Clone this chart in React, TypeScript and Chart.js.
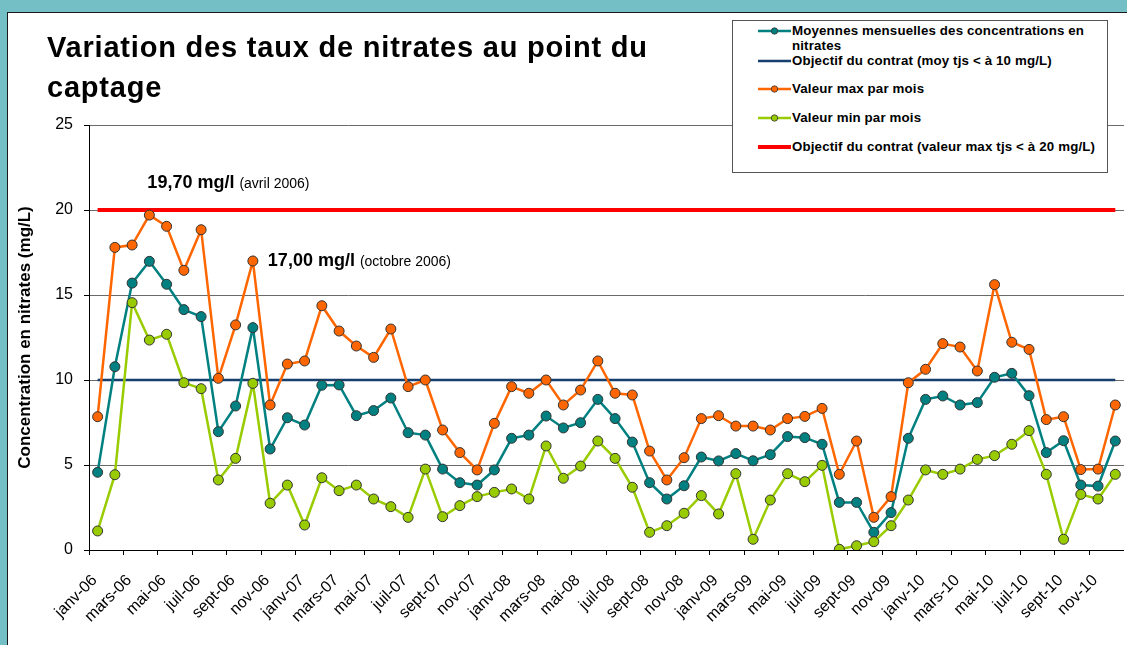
import React, { useEffect, useRef } from 'react';
import { Chart, registerables } from 'chart.js';

Chart.register(...registerables);

const FONT = '"Liberation Sans", Arial, sans-serif';

const months = [
  'janv-06','févr-06','mars-06','avr-06','mai-06','juin-06','juil-06','août-06','sept-06','oct-06','nov-06','déc-06',
  'janv-07','févr-07','mars-07','avr-07','mai-07','juin-07','juil-07','août-07','sept-07','oct-07','nov-07','déc-07',
  'janv-08','févr-08','mars-08','avr-08','mai-08','juin-08','juil-08','août-08','sept-08','oct-08','nov-08','déc-08',
  'janv-09','févr-09','mars-09','avr-09','mai-09','juin-09','juil-09','août-09','sept-09','oct-09','nov-09','déc-09',
  'janv-10','févr-10','mars-10','avr-10','mai-10','juin-10','juil-10','août-10','sept-10','oct-10','nov-10','déc-10',
];

const moyennes = [
  4.57, 10.78, 15.7, 16.98, 15.63, 14.14, 13.73, 6.96, 8.47, 13.08, 5.94, 7.78,
  7.35, 9.69, 9.71, 7.9, 8.2, 8.94, 6.9, 6.76, 4.76, 3.96, 3.82, 4.71,
  6.57, 6.76, 7.88, 7.18, 7.49, 8.86, 7.73, 6.35, 3.96, 3.0, 3.78, 5.47,
  5.24, 5.67, 5.25, 5.61, 6.67, 6.61, 6.22, 2.8, 2.8, 1.04, 2.2, 6.57,
  8.86, 9.06, 8.53, 8.67, 10.16, 10.39, 9.08, 5.73, 6.43, 3.82, 3.76, 6.41,
];

const maxParMois = [
  7.84, 17.8, 17.94, 19.7, 19.04, 16.45, 18.84, 10.1, 13.24, 17.0, 8.53, 10.94,
  11.12, 14.37, 12.88, 12.0, 11.33, 13.0, 9.61, 10.0, 7.06, 5.73, 4.71, 7.45,
  9.61, 9.22, 10.0, 8.53, 9.41, 11.12, 9.22, 9.12, 5.82, 4.12, 5.43, 7.73,
  7.9, 7.29, 7.29, 7.06, 7.73, 7.86, 8.33, 4.45, 6.41, 1.92, 3.14, 9.84,
  10.63, 12.14, 11.94, 10.53, 15.61, 12.22, 11.8, 7.67, 7.84, 4.73, 4.76, 8.53,
];

const minParMois = [
  1.12, 4.43, 14.55, 12.35, 12.69, 9.84, 9.49, 4.12, 5.39, 9.8, 2.75, 3.82,
  1.47, 4.25, 3.49, 3.82, 3.0, 2.55, 1.92, 4.76, 1.96, 2.61, 3.14, 3.39,
  3.59, 3.0, 6.12, 4.22, 4.94, 6.41, 5.39, 3.69, 1.04, 1.43, 2.16, 3.2,
  2.12, 4.49, 0.63, 2.94, 4.49, 4.02, 4.98, 0.04, 0.25, 0.49, 1.43, 2.94,
  4.71, 4.45, 4.76, 5.33, 5.55, 6.22, 7.02, 4.45, 0.63, 3.27, 3.0, 4.45,
];

const OBJ_MOY = 10;
const OBJ_MAX = 20;
const Y_MIN = 0;
const Y_MAX = 25;
const Y_STEP = 5;

const annotations = [
  { index: 3, value: 21.3, bold: '19,70 mg/l', normal: '(avril 2006)', dx: -2 },
  { index: 9, value: 16.7, bold: '17,00 mg/l', normal: '(octobre 2006)', dx: 15 },
];

const TEAL = '#008080';
const NAVY = '#173F6E';
const ORANGE = '#FF6600';
const GREEN = '#99CC00';
const RED = '#FF0000';
const MARKER_BORDER = '#333333';

const CW = 1145;
const CH = 645;
const PLOT_RIGHT = 1130.6;

const annotationPlugin = {
  id: 'annotationTexts',
  afterDatasetsDraw(chart: any) {
    const { ctx, scales } = chart;
    const xs = scales.x;
    const ys = scales.y;
    ctx.save();
    ctx.fillStyle = '#000';
    ctx.textBaseline = 'alphabetic';
    ctx.textAlign = 'left';
    annotations.forEach((a) => {
      const x = xs.getPixelForValue(a.index) + a.dx;
      const y = ys.getPixelForValue(a.value);
      ctx.font = `bold 18px ${FONT}`;
      ctx.fillText(a.bold, x, y);
      const w = ctx.measureText(a.bold + ' ').width;
      ctx.font = `14px ${FONT}`;
      ctx.fillText(a.normal, x + w, y);
    });
    ctx.restore();
  },
};

function pointStyle(color: string) {
  return {
    borderColor: color,
    backgroundColor: color,
    pointBackgroundColor: color,
    pointBorderColor: MARKER_BORDER,
    pointBorderWidth: 1,
    pointRadius: 5,
    borderWidth: 2.5,
  };
}

export default function App() {
  const canvasRef = useRef<HTMLCanvasElement>(null);

  useEffect(() => {
    const canvas = canvasRef.current;
    if (!canvas) return;
    const chart = new Chart(canvas, {
      type: 'line',
      data: {
        labels: months,
        datasets: [
          { label: 'Valeur min par mois', data: minParMois, ...pointStyle(GREEN), order: 1 },
          { label: 'Valeur max par mois', data: maxParMois, ...pointStyle(ORANGE), order: 2 },
          { label: 'Moyennes mensuelles des concentrations en nitrates', data: moyennes, ...pointStyle(TEAL), order: 3 },
          {
            label: 'Objectif du contrat (moy tjs < à 10 mg/L)',
            data: [{ x: months[0], y: OBJ_MOY }, { x: months[months.length - 1], y: OBJ_MOY }] as any,
            borderColor: NAVY, borderWidth: 2.5, pointRadius: 0, order: 4,
          },
          {
            label: 'Objectif du contrat (valeur max tjs < à 20 mg/L)',
            data: [{ x: months[0], y: OBJ_MAX }, { x: months[months.length - 1], y: OBJ_MAX }] as any,
            borderColor: RED, borderWidth: 4, pointRadius: 0, order: 5,
          },
        ],
      },
      options: {
        responsive: false,
        maintainAspectRatio: false,
        animation: false,
        devicePixelRatio: 1,
        layout: { padding: { left: 0, top: 125, right: CW - PLOT_RIGHT, bottom: 0 } },
        plugins: {
          legend: { display: false },
          tooltip: { enabled: false },
          title: { display: false },
        },
        scales: {
          x: {
            type: 'category',
            offset: true,
            grid: {
              offset: true,
              drawOnChartArea: false,
              drawTicks: true,
              tickLength: 5,
              tickColor: (c: any) => (c.index % 2 === 0 ? '#000' : 'rgba(0,0,0,0)'),
              color: '#000',
            },
            border: { display: true, color: '#000', width: 1 },
            ticks: {
              autoSkip: false,
              maxRotation: 45,
              minRotation: 45,
              padding: 16,
              labelOffset: -3,
              color: '#000',
              font: { family: FONT, size: 16 },
              callback: function (this: any, v: any, i: number) {
                return i % 2 === 0 ? this.getLabelForValue(v) : '';
              },
            },
            afterFit: (scale: any) => { scale.height = CH - 550; },
          },
          y: {
            min: Y_MIN,
            max: Y_MAX,
            ticks: {
              stepSize: Y_STEP,
              padding: 11,
              color: '#000',
              font: { family: FONT, size: 16 },
            },
            grid: { color: '#6a6a6a', tickColor: '#000', tickLength: 5, lineWidth: 1 },
            border: { display: true, color: '#000', width: 1 },
            title: {
              display: true,
              text: 'Concentration en nitrates (mg/L)',
              color: '#000',
              font: { family: FONT, size: 17, weight: 'bold' },
              padding: { top: 15, bottom: 0 },
            },
            afterFit: (scale: any) => { scale.width = 89; },
          },
        },
      },
      plugins: [annotationPlugin],
    } as any);
    return () => chart.destroy();
  }, []);

  const legendRows = [
    { label: ['Moyennes mensuelles des concentrations en', 'nitrates'], color: TEAL, marker: true, width: 2.5, cy: 10 },
    { label: ['Objectif du contrat (moy tjs < à 10 mg/L)'], color: NAVY, marker: false, width: 2.5, cy: 40 },
    { label: ['Valeur max par mois'], color: ORANGE, marker: true, width: 2.5, cy: 68 },
    { label: ['Valeur min par mois'], color: GREEN, marker: true, width: 2.5, cy: 97 },
    { label: ['Objectif du contrat (valeur max tjs < à 20 mg/L)'], color: RED, marker: false, width: 4, cy: 126 },
  ];

  return (
    <div style={{ position: 'fixed', left: 0, top: 0, width: 1127, height: 645, overflow: 'hidden', background: '#74BEC5', fontFamily: FONT }}>
      <div style={{ position: 'absolute', left: 7, top: 12, width: 1200, height: 700, background: '#fff', borderLeft: '1px solid #1a1a1a', borderTop: '1px solid #1a1a1a', boxSizing: 'border-box' }} />
      <canvas ref={canvasRef} width={CW} height={CH} style={{ position: 'absolute', left: 0, top: 0, width: CW, height: CH }} />
      <div style={{ position: 'absolute', left: 47, top: 27, fontSize: 29, fontWeight: 'bold', lineHeight: '40px', letterSpacing: '0.8px', color: '#000', whiteSpace: 'nowrap' }}>
        Variation des taux de nitrates au point du<br />captage
      </div>
      <div style={{ position: 'absolute', left: 732, top: 20, width: 376, height: 153, boxSizing: 'border-box', border: '1px solid #555', background: '#fff' }}>
        {legendRows.map((r, i) => (
          <div key={i}>
            <svg style={{ position: 'absolute', left: 24, top: r.cy - 6 }} width={36} height={12}>
              <line x1={1} y1={6} x2={34} y2={6} stroke={r.color} strokeWidth={r.width} />
              {r.marker && <circle cx={17.5} cy={6} r={3.2} fill={r.color} stroke={MARKER_BORDER} strokeWidth={0.8} />}
            </svg>
            <div style={{ position: 'absolute', left: 59, top: r.cy - 8, fontSize: 13.3, fontWeight: 'bold', lineHeight: '15px', letterSpacing: '0.15px', color: '#000', whiteSpace: 'nowrap' }}>
              {r.label.map((t, j) => (<div key={j}>{t}</div>))}
            </div>
          </div>
        ))}
      </div>
    </div>
  );
}
